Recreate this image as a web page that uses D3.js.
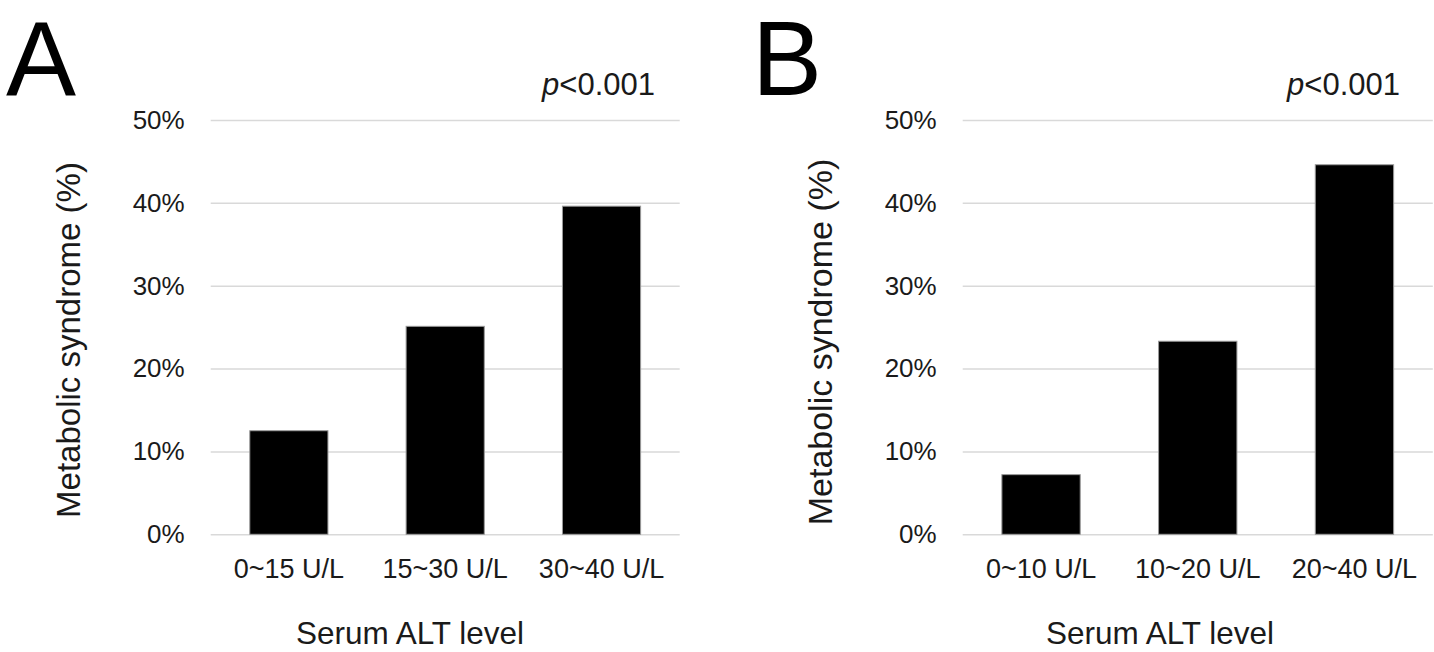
<!DOCTYPE html>
<html>
<head>
<meta charset="utf-8">
<script src="https://cdn.jsdelivr.net/npm/d3@7"></script>
<style>
  body { margin: 0; background: #fff; }
  svg { display: block; font-family: "Liberation Sans", Arial, sans-serif; }
</style>
</head>
<body>
<script>
const width = 1434;
const height = 652;

// data
const categoriesA = ["0~15 U/L", "15~30 U/L", "30~40 U/L"];
const valuesA = [12.5, 25.1, 39.6];
const categoriesB = ["0~10 U/L", "10~20 U/L", "20~40 U/L"];
const valuesB = [7.2, 23.3, 44.6];
const yTicks = [0, 10, 20, 30, 40, 50];
const yTitle = "Metabolic syndrome (%)";
const xTitle = "Serum ALT level";
const pText = "<0.001";

const svg = d3.select('body').append('svg')
    .attr('width', width)
    .attr('height', height);

const drawPanel = (opt) => {
    const g = svg.append('g');
    const y0 = 534.3, y50 = 120;

    const xScale = d3.scaleBand()
        .domain(opt.categories)
        .range([opt.left, opt.right])
        .paddingInner(0.5)
        .paddingOuter(0.25);
    const yScale = d3.scaleLinear()
        .domain([0, 50])
        .range([y0, y50]);

    // y axis with gridlines
    const yAxis = d3.axisLeft(yScale)
        .tickValues(yTicks)
        .tickSize(-(opt.right - opt.left))
        .tickPadding(26)
        .tickFormat(d => d + '%');
    const ya = g.append('g')
        .attr('transform', `translate(${opt.left}, 0)`)
        .call(yAxis);
    ya.select('.domain').remove();
    ya.selectAll('.tick line')
        .attr('stroke', '#d9d9d9')
        .attr('stroke-width', 1.5);
    ya.selectAll('.tick text')
        .attr('font-size', 26)
        .attr('fill', '#1a1a1a')
        .attr('font-family', '"Liberation Sans", Arial, sans-serif');

    // bars
    g.selectAll('rect.bar').data(opt.values)
        .enter().append('rect')
        .attr('class', 'bar')
        .attr('x', (d, i) => xScale(opt.categories[i]))
        .attr('y', d => yScale(d))
        .attr('width', xScale.bandwidth())
        .attr('height', d => y0 - yScale(d))
        .attr('fill', '#000')
        .attr('stroke', '#9a9a9a')
        .attr('stroke-width', 1);

    // x axis labels
    const xAxis = d3.axisBottom(xScale).tickSize(0).tickPadding(0);
    const xa = g.append('g')
        .attr('transform', `translate(0, ${y0})`)
        .call(xAxis);
    xa.select('.domain').remove();
    xa.selectAll('.tick text')
        .attr('y', 43.7)
        .attr('dy', 0)
        .attr('font-size', 27)
        .attr('fill', '#1a1a1a')
        .attr('font-family', '"Liberation Sans", Arial, sans-serif');

    // panel letter
    g.append('text')
        .attr('x', opt.letterX)
        .attr('y', 95)
        .attr('font-size', 105)
        .attr('fill', '#000')
        .text(opt.letter);

    // p value
    const p = g.append('text')
        .attr('x', opt.pRight)
        .attr('y', 95)
        .attr('text-anchor', 'end')
        .attr('font-size', 31)
        .attr('fill', '#1a1a1a');
    p.append('tspan').attr('font-style', 'italic').text('p');
    p.append('tspan').text(pText);

    // axis titles
    g.append('text')
        .attr('transform', `translate(${opt.yTitleX}, ${opt.yTitleY}) rotate(-90)`)
        .attr('text-anchor', 'middle')
        .attr('font-size', opt.yTitleSize)
        .attr('fill', '#1a1a1a')
        .text(yTitle);
    g.append('text')
        .attr('x', opt.xTitleX)
        .attr('y', opt.xTitleY)
        .attr('text-anchor', 'middle')
        .attr('font-size', 31.5)
        .attr('fill', '#1a1a1a')
        .text(xTitle);
};

drawPanel({
    letter: 'A', letterX: 6,
    categories: categoriesA, values: valuesA,
    left: 210.7, right: 679.7,
    pRight: 655,
    yTitleX: 80, yTitleY: 340, yTitleSize: 33,
    xTitleX: 410, xTitleY: 644
});

drawPanel({
    letter: 'B', letterX: 752,
    categories: categoriesB, values: valuesB,
    left: 962.7, right: 1432.8,
    pRight: 1400,
    yTitleX: 832, yTitleY: 342, yTitleSize: 34,
    xTitleX: 1160, xTitleY: 644
});
</script>
</body>
</html>
